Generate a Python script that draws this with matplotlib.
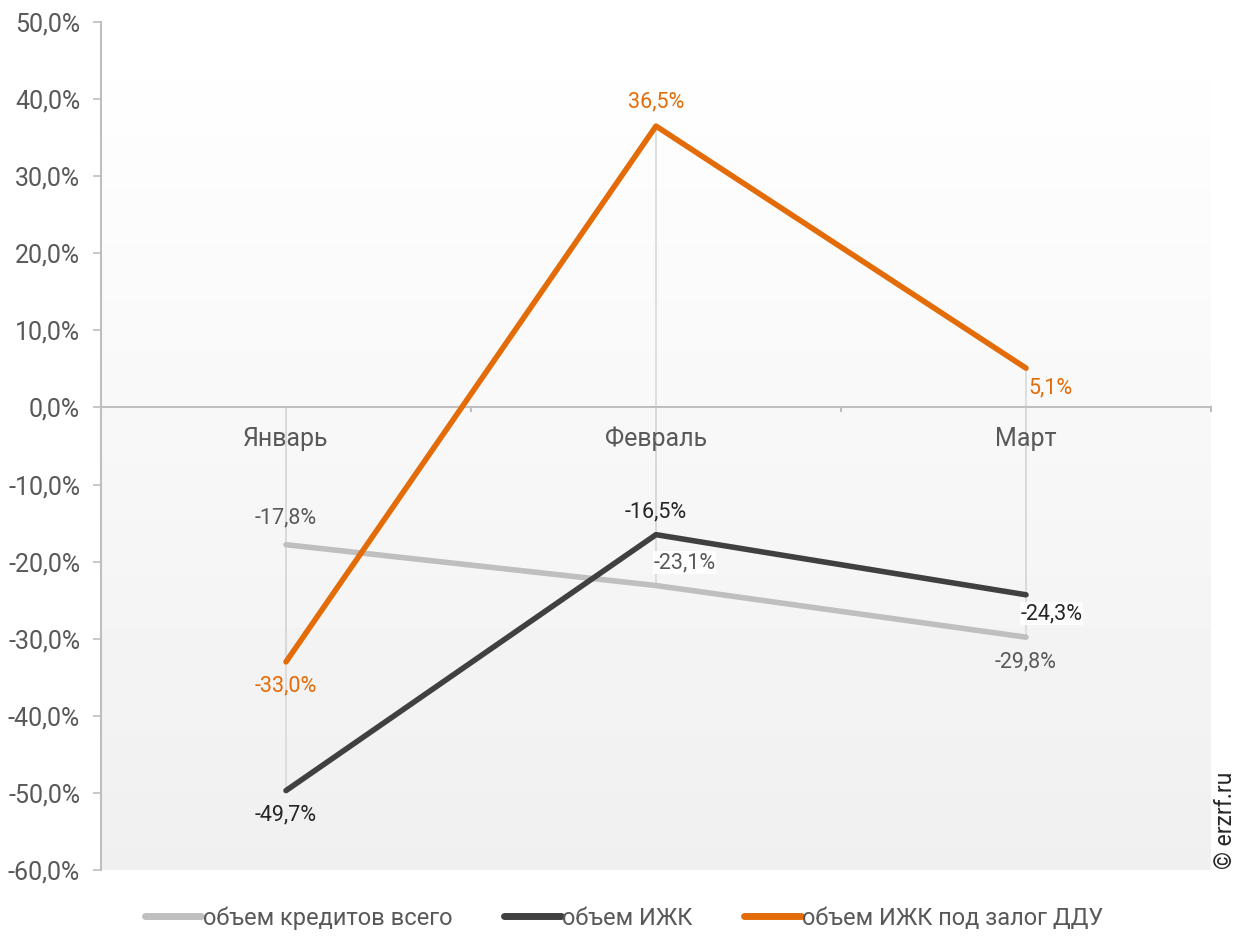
import numpy as np
import matplotlib.pyplot as plt
from matplotlib.lines import Line2D

plt.rcParams['font.family'] = ['Roboto', 'DejaVu Sans']

months = ['Январь', 'Февраль', 'Март']
total = [-17.8, -23.1, -29.8]
izhk = [-49.7, -16.5, -24.3]
izhk_ddu = [-33.0, 36.5, 5.1]
series_names = ['объем кредитов всего', 'объем ИЖК', 'объем ИЖК под залог ДДУ']

c_total = '#bfbfbf'
c_izhk = '#404040'
c_ddu = '#e36c09'
txt = '#595959'

fig = plt.figure(figsize=(12.48, 9.36), dpi=100)
ax = fig.add_axes([101 / 1248, 1 - 870 / 936, 1110 / 1248, 848 / 936])

x = np.arange(len(months))
ax.set_xlim(-0.5, 2.5)
ax.set_ylim(-60, 50)

# фон с градиентом
grad = np.linspace(1.0, 0.94, 256).reshape(-1, 1)
ax.imshow(grad, extent=(-0.5, 2.5, -60, 50), aspect='auto', cmap='gray',
          vmin=0, vmax=1, zorder=0, origin='upper')

# линии проекции от точек к оси
for vals in (total, izhk, izhk_ddu):
    ax.vlines(x, 0, vals, color='#d9d9d9', lw=1.2, zorder=1)

ax.axhline(0, color='#bfbfbf', lw=1.5, zorder=2)
for xb in (0.5, 1.5, 2.5):
    ax.plot([xb, xb], [0, -0.5], color='#bfbfbf', lw=1.5, zorder=2, clip_on=False)

ax.plot(x, total, color=c_total, lw=4, solid_capstyle='round', zorder=3)
ax.plot(x, izhk, color=c_izhk, lw=4, solid_capstyle='round', zorder=4)
ax.plot(x, izhk_ddu, color=c_ddu, lw=4, solid_capstyle='round', zorder=5)

fmt = lambda v: f'{v:.1f}%'.replace('.', ',')
fs = 15.5

# подписи данных
ax.annotate(fmt(total[0]), (x[0], total[0]), xytext=(0, 12), textcoords='offset points',
            ha='center', va='bottom', color=txt, fontsize=fs, zorder=6)
ax.annotate(fmt(total[1]), (x[1], total[1]), xytext=(-2, 9), textcoords='offset points',
            ha='left', va='bottom', color=txt, fontsize=fs, zorder=6,
            bbox=dict(fc='white', ec='none', pad=0.5, alpha=0.9))
ax.annotate(fmt(total[2]), (x[2], total[2]), xytext=(0, -10), textcoords='offset points',
            ha='center', va='top', color=txt, fontsize=fs, zorder=6)

ax.annotate(fmt(izhk[0]), (x[0], izhk[0]), xytext=(0, -10), textcoords='offset points',
            ha='center', va='top', color='#262626', fontsize=fs, zorder=6)
ax.annotate(fmt(izhk[1]), (x[1], izhk[1]), xytext=(0, 9), textcoords='offset points',
            ha='center', va='bottom', color='#262626', fontsize=fs, zorder=6)
ax.annotate(fmt(izhk[2]), (x[2], izhk[2]), xytext=(-4, -6), textcoords='offset points',
            ha='left', va='top', color='#262626', fontsize=fs, zorder=6,
            bbox=dict(fc='white', ec='none', pad=0.5, alpha=0.9))

ax.annotate(fmt(izhk_ddu[0]), (x[0], izhk_ddu[0]), xytext=(0, -10), textcoords='offset points',
            ha='center', va='top', color=c_ddu, fontsize=fs, zorder=6)
ax.annotate(fmt(izhk_ddu[1]), (x[1], izhk_ddu[1]), xytext=(0, 10), textcoords='offset points',
            ha='center', va='bottom', color=c_ddu, fontsize=fs, zorder=6)
ax.annotate(fmt(izhk_ddu[2]), (x[2], izhk_ddu[2]), xytext=(2, -7), textcoords='offset points',
            ha='left', va='top', color=c_ddu, fontsize=fs, zorder=6)

# подписи категорий под нулевой линией
for xi, m in zip(x, months):
    ax.text(xi, -2.5, m, ha='center', va='top', color=txt, fontsize=18, zorder=6)

ax.set_xticks([])
ax.set_yticks(np.arange(-60, 51, 10))
ax.set_yticklabels([f'{v:.1f}%'.replace('.', ',') for v in np.arange(-60, 51, 10)])
ax.tick_params(axis='y', colors='#bfbfbf', labelcolor=txt, labelsize=18,
               length=6, width=1.2, pad=9)
for s in ('top', 'right', 'bottom'):
    ax.spines[s].set_visible(False)
ax.spines['left'].set_color('#bfbfbf')
ax.spines['left'].set_linewidth(1.5)

handles = [Line2D([], [], color=c, lw=5, solid_capstyle='round')
           for c in (c_total, c_izhk, c_ddu)]
fig.legend(handles, series_names, loc='center', bbox_to_anchor=(0.5, 1 - 918 / 936),
           ncol=3, frameon=False, fontsize=17, labelcolor=txt, handlelength=2.4,
           handletextpad=0.05, columnspacing=2.2)

fig.text(1226 / 1248, 1 - 820 / 936, '© erzrf.ru', rotation=90, ha='center', va='center',
         fontsize=16.5, color='#262626')

fig.savefig('out.png', dpi=100)
